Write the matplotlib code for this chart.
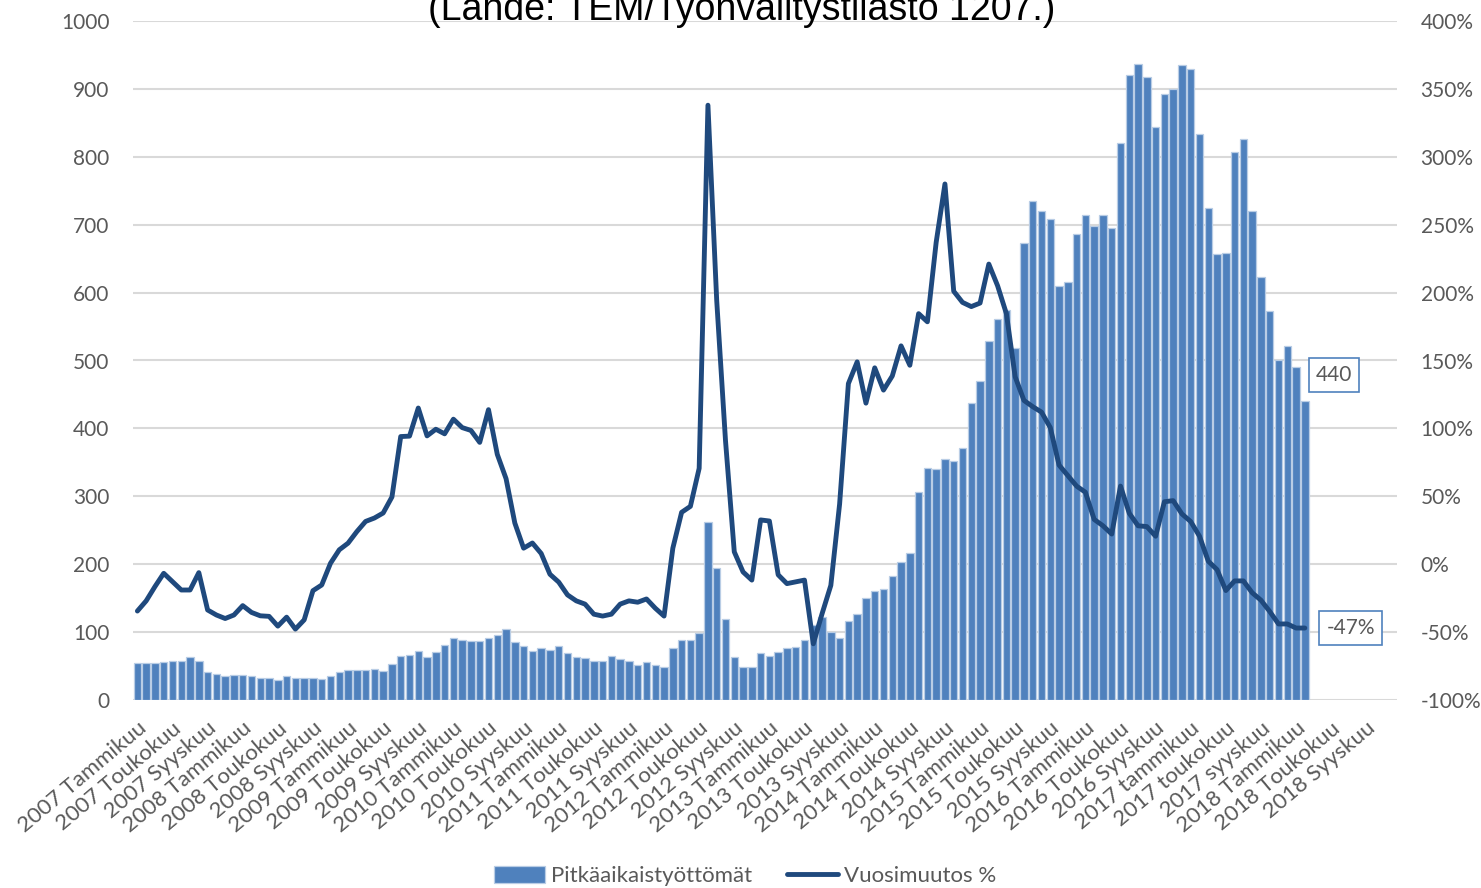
import matplotlib
matplotlib.use("Agg")
import matplotlib.pyplot as plt
import matplotlib.ticker as mticker

plt.rcParams['font.family'] = ['Lato', 'DejaVu Sans']

# kuukaudet 2007-01 .. 2018-12 (kategoria-akseli), nimet joka 4. kuukaudelle
years = list(range(2007, 2019))
tick_months = ['Tammikuu', 'Toukokuu', 'Syyskuu']
tick_labels = []
for y in years:
    for m in tick_months:
        name = m.lower() if y == 2017 else m
        tick_labels.append(f'{y} {name}')
n_categories = 144

# pitkäaikaistyöttömät (kpl), 2007-01 .. 2018-02
long_term = [55, 55, 54, 56, 58, 58, 64, 58, 41, 38,
             35, 37, 37, 35, 33, 33, 30, 36, 33, 33,
             32, 31, 35, 41, 44, 44, 44, 46, 42, 53,
             65, 67, 72, 63, 71, 81, 91, 88, 87, 87,
             92, 96, 105, 86, 80, 72, 77, 74, 80, 69,
             64, 62, 57, 58, 65, 61, 57, 51, 56, 51,
             49, 77, 88, 88, 98, 262, 195, 119, 64, 49,
             49, 69, 65, 71, 77, 78, 88, 110, 122, 100,
             92, 116, 126, 150, 160, 164, 183, 203, 216, 306,
             341, 340, 355, 352, 371, 438, 470, 529, 561, 574,
             519, 673, 735, 720, 708, 610, 615, 687, 714, 698,
             715, 695, 821, 921, 937, 918, 844, 892, 900, 935,
             929, 834, 724, 657, 658, 807, 826, 720, 623, 573,
             500, 522, 490, 440]

# vuosimuutos %
yoy_change = [-34.5, -27, -16.5, -6.7, -12.8, -19, -19, -6.2, -33.7, -37.4,
              -40, -37.4, -30.5, -35.5, -38, -38.4, -45.6, -39, -47.8, -41,
              -19.5, -15.3, 0.7, 10.6, 15.5, 24, 31.5, 34, 37.7, 49.5,
              94, 94.3, 115, 94.5, 99.4, 96, 106.8, 100.6, 98.5, 89.7,
              113.8, 80.9, 63, 30.3, 11.8, 15.6, 7.9, -7.4, -13.2, -22.6,
              -27, -29.4, -36.8, -38.2, -36.8, -29.4, -27, -28, -25.6, -32.4,
              -38.2, 11.8, 38.2, 42.6, 70.6, 338, 194, 91, 9.1, -5.7,
              -11.7, 32.6, 31.8, -7.8, -14.3, -13, -11.7, -58.6, -36.5, -15.6,
              44.3, 133, 149, 118.6, 144.6, 128.2, 138.6, 160.8, 146.5, 184.5,
              178.5, 237, 280, 201, 192.8, 189.7, 192.3, 221, 205, 184.5,
              138, 120.6, 116, 112, 100.6, 73, 65.2, 57.5, 53, 33,
              28.3, 22.2, 57.5, 37.5, 28.3, 27.7, 20.6, 46, 46.8, 37,
              31.4, 20.6, 2.2, -4, -19.4, -12.3, -12.3, -21, -26.5, -34.8,
              -44, -44, -47, -47]

bar_color = '#4F81BD'
bar_edge = '#B9CDE5'
line_color = '#1F497D'
text_gray = '#595959'
grid_gray = '#D9D9D9'

fig = plt.figure(figsize=(14.81, 8.88), dpi=100)
ax = fig.add_axes([133 / 1481, 1 - 700 / 888, (1397 - 133) / 1481, (700 - 21) / 888])
ax2 = ax.twinx()

x = list(range(len(long_term)))
bars = ax.bar(x, long_term, width=0.86, color=bar_color, edgecolor=bar_edge,
              linewidth=0.9, label='Pitkäaikaistyöttömät', zorder=2)
line, = ax2.plot(x, yoy_change, color=line_color, linewidth=3.5,
                 solid_joinstyle='round', solid_capstyle='round',
                 label='Vuosimuutos %', zorder=3)

ax.set_xlim(-0.5, n_categories - 0.5)
ax.set_ylim(0, 1000)
ax.set_yticks(range(0, 1001, 100))
ax2.set_ylim(-100, 400)
ax2.set_yticks(range(-100, 401, 50))
ax2.yaxis.set_major_formatter(mticker.FuncFormatter(lambda v, p: f'{int(v)}%'))

ax.grid(axis='y', color=grid_gray, linewidth=1.5, zorder=0)
ax.set_axisbelow(True)
for a in (ax, ax2):
    for s in a.spines.values():
        s.set_visible(False)
    a.tick_params(length=0, labelsize=15, labelcolor=text_gray)
ax.tick_params(axis='y', pad=17)
ax2.tick_params(axis='y', pad=17)

ax.set_xticks(range(0, n_categories, 4))
ax.set_xticklabels(tick_labels, rotation=40, ha='right', rotation_mode='anchor')
ax.tick_params(axis='x', pad=13, labelsize=16)

# datalabels
ax.annotate(f'{long_term[-1]}', xy=(x[-1], long_term[-1]), xytext=(21, 19),
            textcoords='offset points', ha='center', va='center', fontsize=15,
            color=text_gray,
            bbox=dict(boxstyle='square,pad=0.35', fc='white', ec=bar_color, lw=1.2))
ax2.annotate(f'{yoy_change[-1]:.0f}%', xy=(x[-1], yoy_change[-1]), xytext=(33, 0),
             textcoords='offset points', ha='center', va='center', fontsize=15,
             color=text_gray,
             bbox=dict(boxstyle='square,pad=0.35', fc='white', ec=bar_color, lw=1.2))

fig.text(742 / 1481, 1 - 20 / 888, '(Lähde: TEM/Työnvälitystilasto 1207.)',
         ha='center', va='baseline', fontsize=27, family='Liberation Sans',
         color='black')

fig.legend(handles=[bars, line], loc='center', bbox_to_anchor=(745 / 1481, 1 - 876 / 888),
           ncol=2, frameon=False, fontsize=16, labelcolor=text_gray,
           handlelength=2.3, handleheight=0.8, columnspacing=1.6, handletextpad=0.25)

fig.savefig('out.png', dpi=100)
